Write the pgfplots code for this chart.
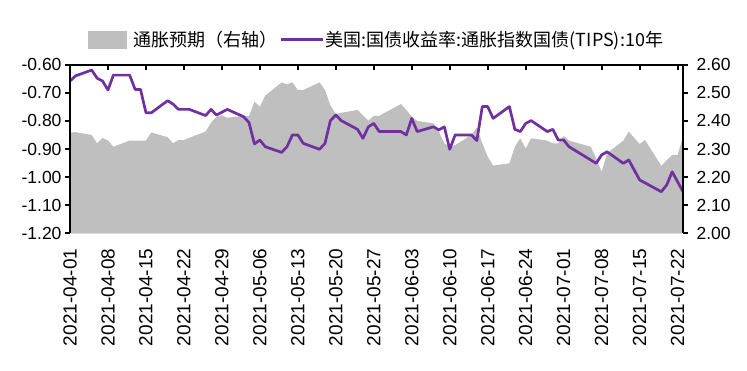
\documentclass[border=0pt]{standalone}
\usepackage{pgfplots}
\usepackage{pgfplotstable}
\pgfplotsset{compat=1.18}
\usepackage{fontspec}
\setmainfont{Liberation Sans}
\newfontfamily\cjk{Noto Sans CJK SC}
\definecolor{areagray}{HTML}{BFBFBF}
\definecolor{basegray}{HTML}{D9D9D9}
\definecolor{tipspurple}{HTML}{7030A0}
\definecolor{axisblack}{HTML}{000000}
\pgfplotsset{
  numfmt/.style={/pgf/number format/fixed, /pgf/number format/fixed zerofill,
    /pgf/number format/precision=2, /pgf/number format/assume math mode=true},
}

\pgfplotstableread{
day val
0 2.358
1 2.360
4 2.350
5 2.320
6 2.340
7 2.330
8 2.308
11 2.330
12 2.330
13 2.330
14 2.330
15 2.359
18 2.342
19 2.320
20 2.332
21 2.332
22 2.340
25 2.362
26 2.394
27 2.415
28 2.420
29 2.411
32 2.418
33 2.418
34 2.468
35 2.451
36 2.490
39 2.537
40 2.530
41 2.537
42 2.510
43 2.510
46 2.537
47 2.510
48 2.455
49 2.425
50 2.429
53 2.439
54 2.420
55 2.401
56 2.418
57 2.418
61 2.460
62 2.439
63 2.415
64 2.400
67 2.391
68 2.362
69 2.320
70 2.308
71 2.314
74 2.350
75 2.377
76 2.320
77 2.273
78 2.241
81 2.249
82 2.308
83 2.338
84 2.302
85 2.338
88 2.330
89 2.320
90 2.320
91 2.346
92 2.330
96 2.308
97 2.267
98 2.219
99 2.285
102 2.330
103 2.362
104 2.340
105 2.318
106 2.332
109 2.240
110 2.260
111 2.279
112 2.279
113 2.342
}\breakeven

\pgfplotstableread{
day val
0 -0.658
1 -0.640
4 -0.619
5 -0.648
6 -0.658
7 -0.690
8 -0.637
11 -0.637
12 -0.688
13 -0.688
14 -0.771
15 -0.771
18 -0.728
19 -0.740
20 -0.759
21 -0.759
22 -0.759
25 -0.781
26 -0.759
27 -0.779
28 -0.769
29 -0.759
32 -0.785
33 -0.806
34 -0.882
35 -0.868
36 -0.892
39 -0.912
40 -0.892
41 -0.850
42 -0.850
43 -0.880
46 -0.901
47 -0.880
48 -0.799
49 -0.779
50 -0.799
53 -0.830
54 -0.862
55 -0.821
56 -0.809
57 -0.838
61 -0.838
62 -0.850
63 -0.791
64 -0.838
67 -0.821
68 -0.832
69 -0.821
70 -0.901
71 -0.850
74 -0.850
75 -0.870
76 -0.749
77 -0.749
78 -0.791
81 -0.749
82 -0.830
83 -0.838
84 -0.809
85 -0.799
88 -0.838
89 -0.830
90 -0.868
91 -0.868
92 -0.892
97 -0.951
98 -0.921
99 -0.910
102 -0.951
103 -0.939
105 -1.010
109 -1.052
110 -1.028
111 -0.981
113 -1.052
}\tips

\begin{document}
\begin{tikzpicture}
\path[use as bounding box] (-70pt,-136.7pt) rectangle (677pt,233.3pt);
% right axis: breakeven inflation (area) + top x axis line with ticks
\begin{axis}[
  scale only axis, width=613pt, height=168.6pt,
  xmin=0, xmax=113, ymin=2.0, ymax=2.6,
  axis x line*=top, axis y line*=right,
  axis line style={draw=axisblack, line width=2pt, -},
  xtick={0,7,...,112},
  xticklabels={},
  xtick align=inside,
  ytick={2.0,2.1,2.2,2.3,2.4,2.5,2.6},
  ytick align=outside,
  major tick length=5pt,
  every tick/.style={draw=axisblack, line width=2pt},
  yticklabel style={numfmt, font=\fontsize{17.5}{20}\selectfont, xshift=5pt},
]
\addplot[fill=areagray, draw=none] table[x=day,y=val]{\breakeven} \closedcycle;
\end{axis}
% left axis: TIPS yield
\begin{axis}[
  scale only axis, width=613pt, height=168.6pt,
  xmin=0, xmax=113, ymin=-1.2, ymax=-0.6,
  axis x line*=bottom, axis y line*=left,
  axis line style={draw=axisblack, line width=2pt, -},
  x axis line style={draw=basegray, line width=1.2pt},
  clip=false,
  xtick={0,7,...,112},
  xticklabels={2021-04-01,2021-04-08,2021-04-15,2021-04-22,2021-04-29,2021-05-06,2021-05-13,2021-05-20,2021-05-27,2021-06-03,2021-06-10,2021-06-17,2021-06-24,2021-07-01,2021-07-08,2021-07-15,2021-07-22},
  major x tick style={draw=none},
  ytick={-1.2,-1.1,-1.0,-0.9,-0.8,-0.7,-0.6},
  ytick align=outside,
  major tick length=5pt,
  major y tick style={draw=axisblack, line width=2pt},
  xticklabel style={rotate=90, anchor=east, font=\fontsize{19}{20}\selectfont, xshift=-12pt},
  yticklabel style={numfmt, font=\fontsize{17.5}{20}\selectfont},
  legend style={at={(0.5,1)}, anchor=center, yshift=25pt, xshift=0pt, draw=none, fill=none,
    legend columns=2, font=\cjk\fontsize{18}{20}\selectfont,
    /tikz/every even column/.append style={column sep=0pt}},
]
\addlegendimage{legend image code/.code={\fill[areagray] (0pt,-8.5pt) rectangle (38pt,8.5pt); \path[draw=none,fill=none] (0pt,0pt) rectangle (43pt,0.1pt);}}
\addlegendentry{通胀预期（右轴）}
\addplot[tipspurple, line width=2.7pt, line join=round,
  legend image code/.code={\draw[tipspurple, line width=2.7pt] (0pt,0pt) -- (42pt,0pt);}] table[x=day,y=val]{\tips};
\addlegendentry{美国:国债收益率:通胀指数国债(TIPS):10年}
\draw[axisblack, line width=2pt] (rel axis cs:0,0) -- (rel axis cs:0,1) -- (rel axis cs:1,1) -- (rel axis cs:1,0);
\end{axis}
\end{tikzpicture}
\end{document}
